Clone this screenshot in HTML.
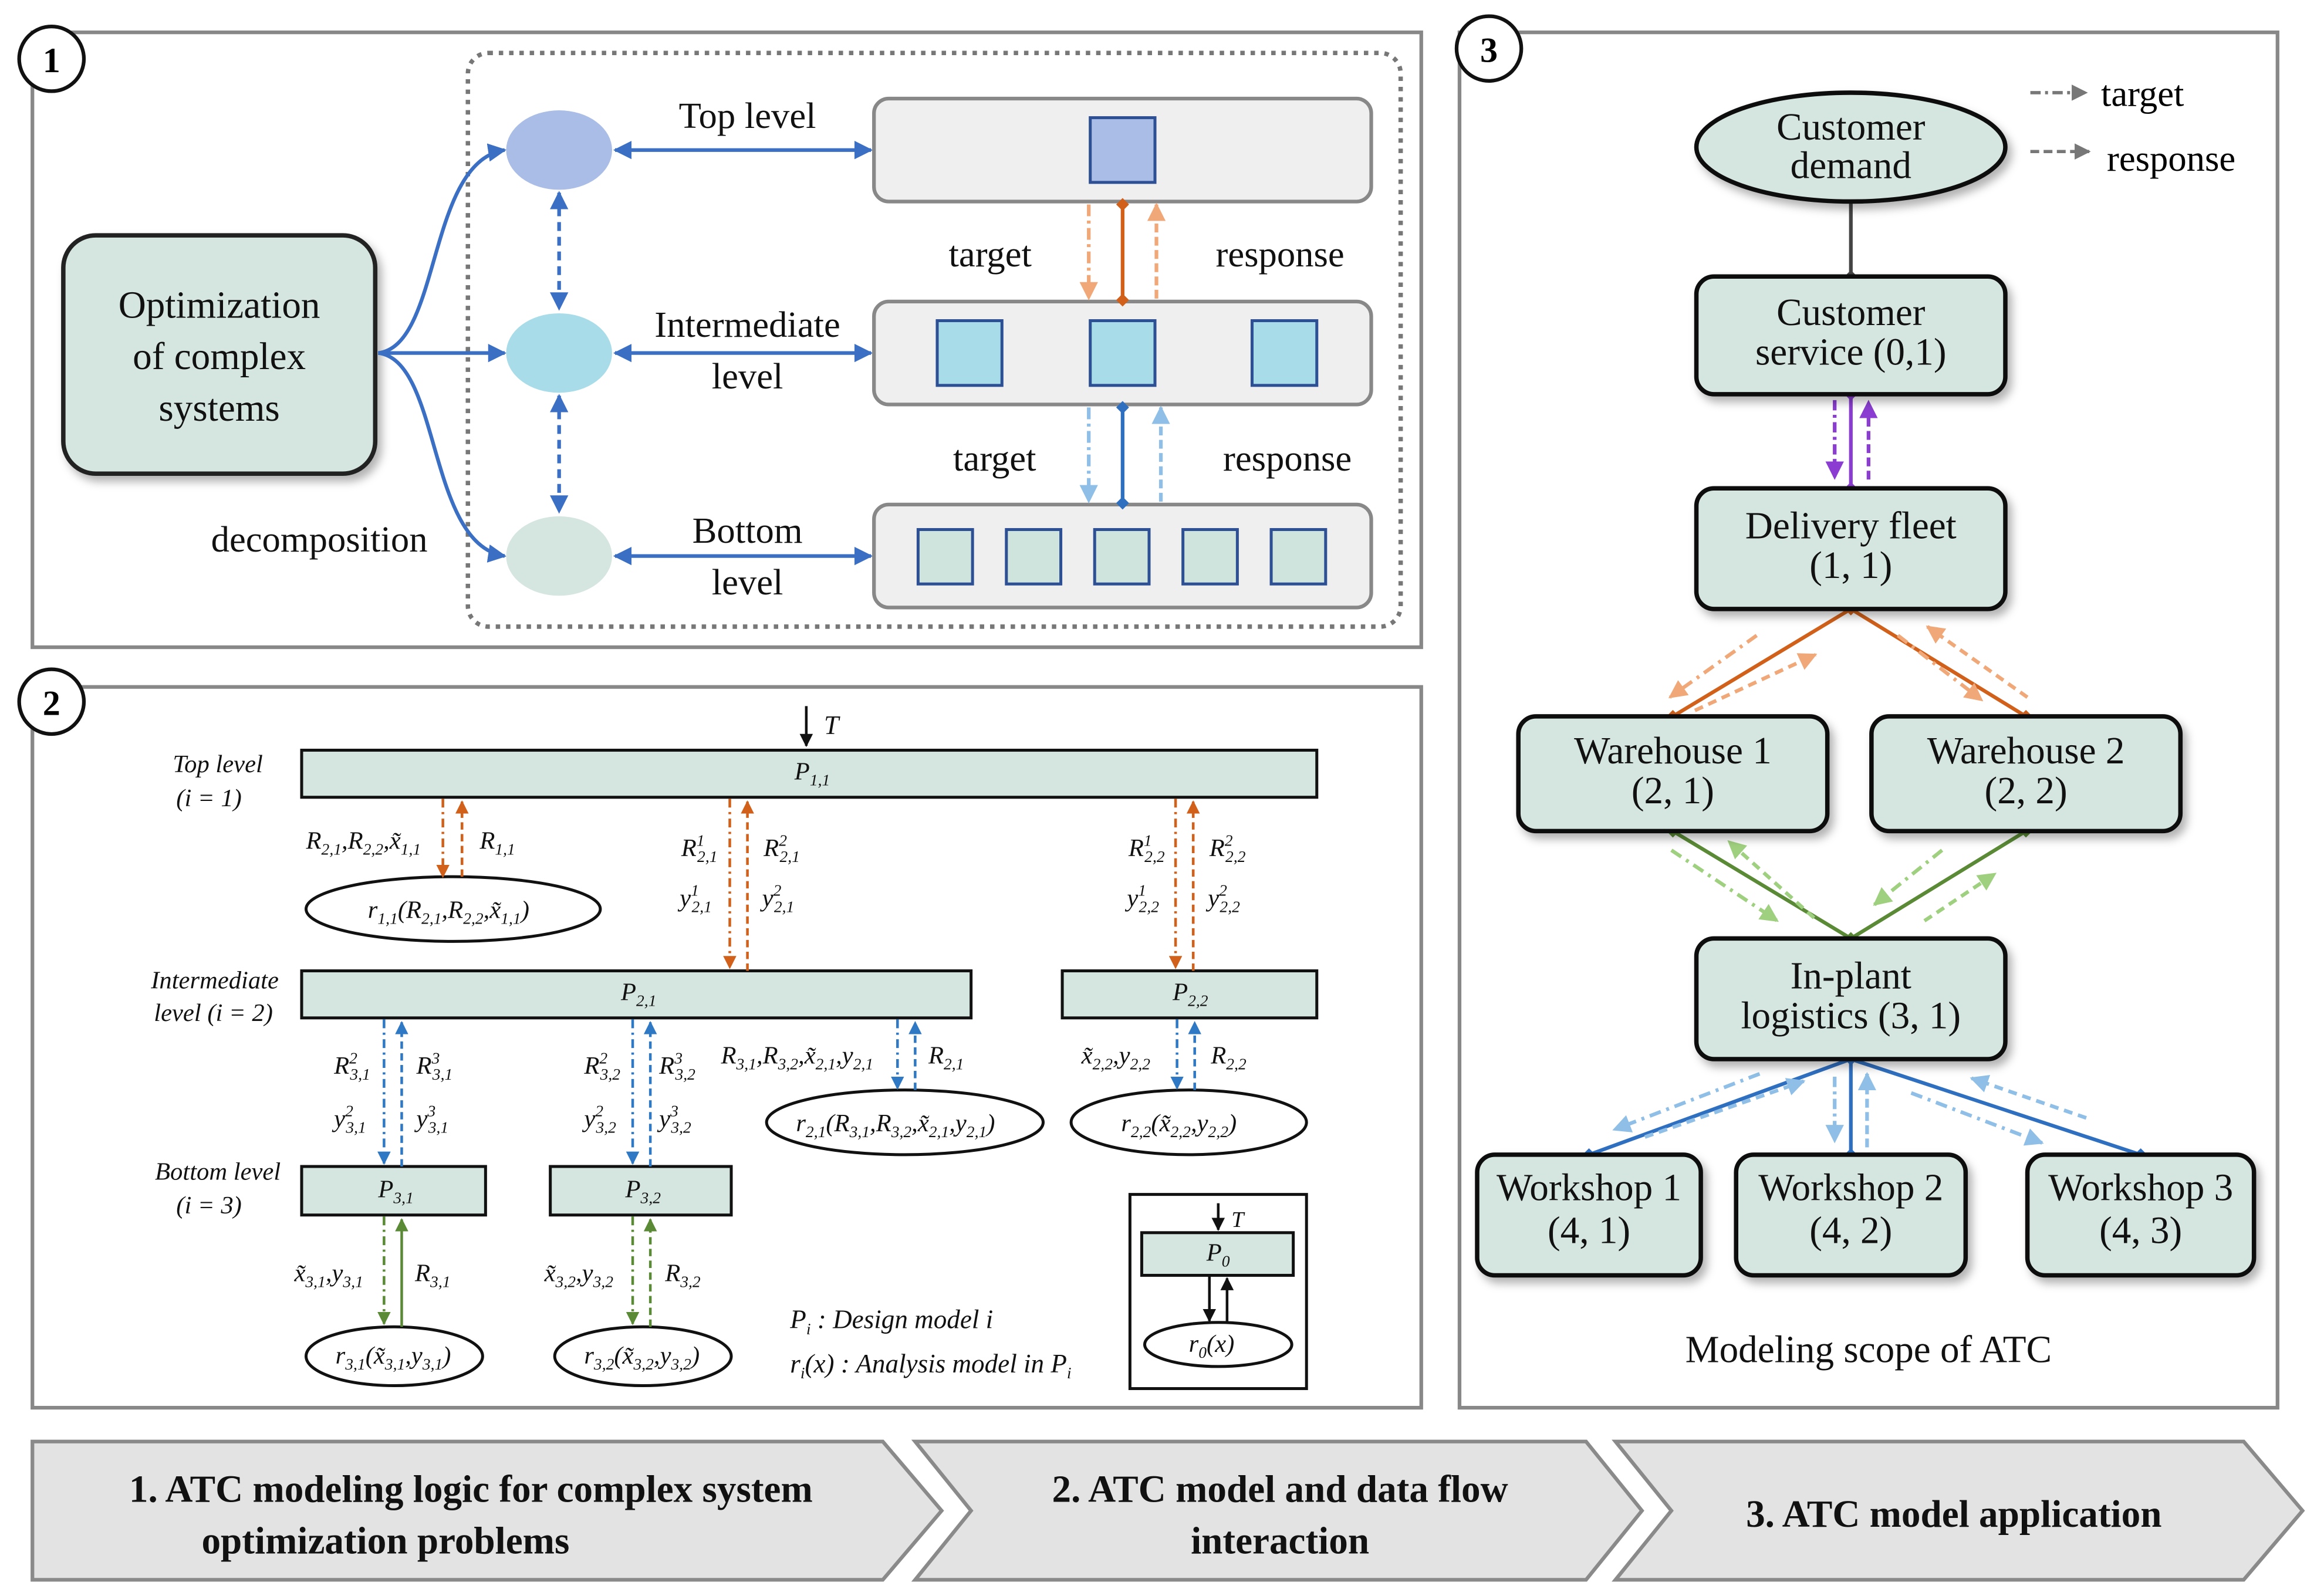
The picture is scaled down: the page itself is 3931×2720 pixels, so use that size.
<!DOCTYPE html>
<html><head><meta charset="utf-8"><style>html,body{margin:0;padding:0;background:#fff}svg{display:block}</style></head>
<body>
<svg xmlns="http://www.w3.org/2000/svg" width="3931" height="2720" viewBox="0 0 1568 1085" font-family="Liberation Serif, serif">
<defs>
<marker id="ab" viewBox="0 0 10 10" refX="9" refY="5" markerWidth="5" markerHeight="5" orient="auto-start-reverse"><path d="M0,0L10,5L0,10z" fill="#3a6fc4"/></marker>
<marker id="ak" viewBox="0 0 10 10" refX="9" refY="5" markerWidth="5" markerHeight="5" orient="auto-start-reverse"><path d="M0,0L10,5L0,10z" fill="#111"/></marker>
<marker id="ao" viewBox="0 0 10 10" refX="9" refY="5" markerWidth="5" markerHeight="5" orient="auto"><path d="M0,0L10,5L0,10z" fill="#d0601a"/></marker>
<marker id="alo" viewBox="0 0 10 10" refX="9" refY="5" markerWidth="5" markerHeight="5" orient="auto"><path d="M0,0L10,5L0,10z" fill="#f0a878"/></marker>
<marker id="alb" viewBox="0 0 10 10" refX="9" refY="5" markerWidth="5" markerHeight="5" orient="auto"><path d="M0,0L10,5L0,10z" fill="#8fbfe6"/></marker>
<marker id="alg" viewBox="0 0 10 10" refX="9" refY="5" markerWidth="5" markerHeight="5" orient="auto"><path d="M0,0L10,5L0,10z" fill="#9fd07f"/></marker>
<marker id="ab2" viewBox="0 0 10 10" refX="9" refY="5" markerWidth="5" markerHeight="5" orient="auto"><path d="M0,0L10,5L0,10z" fill="#2f78c4"/></marker>
<marker id="ag" viewBox="0 0 10 10" refX="9" refY="5" markerWidth="5" markerHeight="5" orient="auto"><path d="M0,0L10,5L0,10z" fill="#5a8a35"/></marker>
<marker id="ap" viewBox="0 0 10 10" refX="9" refY="5" markerWidth="5" markerHeight="5" orient="auto"><path d="M0,0L10,5L0,10z" fill="#8a3dd0"/></marker>
<marker id="ag7" viewBox="0 0 10 10" refX="9" refY="5" markerWidth="5" markerHeight="5" orient="auto"><path d="M0,0L10,5L0,10z" fill="#777"/></marker>
<marker id="do" viewBox="0 0 10 10" refX="5" refY="5" markerWidth="3.5" markerHeight="3.5"><path d="M5,0L10,5L5,10L0,5z" fill="#d0601a"/></marker>
<marker id="db" viewBox="0 0 10 10" refX="5" refY="5" markerWidth="3.5" markerHeight="3.5"><path d="M5,0L10,5L5,10L0,5z" fill="#2f6fc0"/></marker>
<marker id="dg" viewBox="0 0 10 10" refX="5" refY="5" markerWidth="3.5" markerHeight="3.5"><path d="M5,0L10,5L5,10L0,5z" fill="#5a8a35"/></marker>
<marker id="dp" viewBox="0 0 10 10" refX="5" refY="5" markerWidth="3.5" markerHeight="3.5"><path d="M5,0L10,5L5,10L0,5z" fill="#8a3dd0"/></marker>
<marker id="dk" viewBox="0 0 10 10" refX="5" refY="5" markerWidth="3.5" markerHeight="3.5"><path d="M5,0L10,5L5,10L0,5z" fill="#444"/></marker>
<filter id="sh" x="-10%" y="-10%" width="130%" height="140%"><feDropShadow dx="3" dy="4" stdDeviation="3" flood-color="#000" flood-opacity="0.3"/></filter>
</defs>

<!-- PANEL 1 -->
<rect x="22" y="22" width="944" height="418" fill="#fff" stroke="#888" stroke-width="2.5"/>
<rect x="318" y="36" width="634" height="390" rx="14" fill="none" stroke="#777" stroke-width="3" stroke-dasharray="3,4"/>
<rect x="43" y="160" width="212" height="162" rx="22" fill="#d5e5e0" stroke="#222" stroke-width="3" filter="url(#sh)"/>
<g font-size="26" text-anchor="middle" fill="#111">
<text x="149" y="216">Optimization</text><text x="149" y="251">of complex</text><text x="149" y="286">systems</text>
</g>
<g stroke="#3a6fc4" stroke-width="2.5" fill="none">
<path d="M257,240 C300,235 290,110 343,102" marker-end="url(#ab)"/>
<path d="M257,240 L343,240" marker-end="url(#ab)"/>
<path d="M257,240 C300,245 290,370 343,378" marker-end="url(#ab)"/>
<path d="M380,131 L380,210" stroke-dasharray="6,4" marker-start="url(#ab)" marker-end="url(#ab)"/>
<path d="M380,269 L380,348" stroke-dasharray="6,4" marker-start="url(#ab)" marker-end="url(#ab)"/>
<path d="M418,102 L592,102" marker-start="url(#ab)" marker-end="url(#ab)"/>
<path d="M418,240 L592,240" marker-start="url(#ab)" marker-end="url(#ab)"/>
<path d="M418,378 L592,378" marker-start="url(#ab)" marker-end="url(#ab)"/>
</g>
<ellipse cx="380" cy="102" rx="36" ry="27" fill="#aabde6"/>
<ellipse cx="380" cy="240" rx="36" ry="27" fill="#a8dce8"/>
<ellipse cx="380" cy="378" rx="36" ry="27" fill="#d5e5e0"/>
<g font-size="25" text-anchor="middle" fill="#111">
<text x="217" y="375">decomposition</text>
<text x="508" y="87">Top level</text>
<text x="508" y="229">Intermediate</text><text x="508" y="264">level</text>
<text x="508" y="369">Bottom</text><text x="508" y="404">level</text>
<text x="673" y="181">target</text><text x="870" y="181">response</text>
<text x="676" y="320">target</text><text x="875" y="320">response</text>
</g>
<g fill="#efefef" stroke="#888" stroke-width="2.5">
<rect x="594" y="67" width="338" height="70" rx="10"/>
<rect x="594" y="205" width="338" height="70" rx="10"/>
<rect x="594" y="343" width="338" height="70" rx="10"/>
</g>
<rect x="741" y="80" width="44" height="44" fill="#aabde6" stroke="#2d4f93" stroke-width="2"/>
<g fill="#a8dce8" stroke="#2d4f93" stroke-width="2">
<rect x="637" y="218" width="44" height="44"/><rect x="741" y="218" width="44" height="44"/><rect x="851" y="218" width="44" height="44"/>
</g>
<g fill="#d0e4de" stroke="#2d4f93" stroke-width="2">
<rect x="624" y="360" width="37" height="37"/><rect x="684" y="360" width="37" height="37"/><rect x="744" y="360" width="37" height="37"/><rect x="804" y="360" width="37" height="37"/><rect x="864" y="360" width="37" height="37"/>
</g>
<g stroke-width="2.5" fill="none">
<path d="M763,139 L763,204" stroke="#d0601a" marker-start="url(#do)" marker-end="url(#do)"/>
<path d="M740,139 L740,203" stroke="#f0a878" stroke-dasharray="8,3,2,3" marker-end="url(#alo)"/>
<path d="M786,203 L786,139" stroke="#f0a878" stroke-dasharray="6,3" marker-end="url(#alo)"/>
<path d="M763,277 L763,342" stroke="#2f6fc0" marker-start="url(#db)" marker-end="url(#db)"/>
<path d="M740,277 L740,341" stroke="#8fbfe6" stroke-dasharray="8,3,2,3" marker-end="url(#alb)"/>
<path d="M789,341 L789,277" stroke="#8fbfe6" stroke-dasharray="6,3" marker-end="url(#alb)"/>
</g>
<circle cx="35" cy="40" r="22" fill="#fff" stroke="#111" stroke-width="2.5"/>
<text x="35" y="49" font-size="24" font-weight="bold" text-anchor="middle">1</text>

<!-- PANEL 2 -->
<rect x="22" y="467" width="944" height="490" fill="#fff" stroke="#888" stroke-width="2.5"/>
<circle cx="35" cy="477" r="22" fill="#fff" stroke="#111" stroke-width="2.5"/>
<text x="35" y="486" font-size="24" font-weight="bold" text-anchor="middle">2</text>
<g fill="#d5e5e0" stroke="#111" stroke-width="2">
<rect x="205" y="510" width="690" height="32"/>
<rect x="205" y="660" width="455" height="32"/>
<rect x="722" y="660" width="173" height="32"/>
<rect x="205" y="793" width="125" height="33"/>
<rect x="374" y="793" width="123" height="33"/>
<rect x="776" y="838" width="103" height="29"/>
</g>
<rect x="768" y="812" width="120" height="132" fill="none" stroke="#111" stroke-width="2"/>
<g fill="#fff" stroke="#111" stroke-width="2">
<ellipse cx="308" cy="618" rx="100" ry="22"/>
<ellipse cx="615" cy="763" rx="94" ry="22"/>
<ellipse cx="808" cy="763" rx="80" ry="22"/>
<ellipse cx="268" cy="922" rx="60" ry="20"/>
<ellipse cx="437" cy="922" rx="60" ry="20"/>
<ellipse cx="828" cy="914" rx="50" ry="15"/>
</g>
<g stroke-width="1.8" fill="none">
<path d="M548,480 L548,507" stroke="#111" marker-end="url(#ak)"/>
<path d="M828,818 L828,836" stroke="#111" marker-end="url(#ak)"/>
<path d="M822,867 L822,898" stroke="#111" marker-end="url(#ak)"/>
<path d="M834,899 L834,869" stroke="#111" marker-end="url(#ak)"/>
<g stroke="#d0601a">
<path d="M301,543 L301,596" stroke-dasharray="6,3,1.5,3" marker-end="url(#ao)"/>
<path d="M314,596 L314,545" stroke-dasharray="5,3" marker-end="url(#ao)"/>
<path d="M496,543 L496,658" stroke-dasharray="6,3,1.5,3" marker-end="url(#ao)"/>
<path d="M508,660 L508,545" stroke-dasharray="5,3" marker-end="url(#ao)"/>
<path d="M799,543 L799,658" stroke-dasharray="6,3,1.5,3" marker-end="url(#ao)"/>
<path d="M811,660 L811,545" stroke-dasharray="5,3" marker-end="url(#ao)"/>
</g>
<g stroke="#2f78c4">
<path d="M261,693 L261,791" stroke-dasharray="6,3,1.5,3" marker-end="url(#ab2)"/>
<path d="M273,793 L273,695" stroke-dasharray="5,3" marker-end="url(#ab2)"/>
<path d="M430,693 L430,791" stroke-dasharray="6,3,1.5,3" marker-end="url(#ab2)"/>
<path d="M442,793 L442,695" stroke-dasharray="5,3" marker-end="url(#ab2)"/>
<path d="M610,693 L610,740" stroke-dasharray="6,3,1.5,3" marker-end="url(#ab2)"/>
<path d="M622,741 L622,695" stroke-dasharray="5,3" marker-end="url(#ab2)"/>
<path d="M800,693 L800,740" stroke-dasharray="6,3,1.5,3" marker-end="url(#ab2)"/>
<path d="M812,741 L812,695" stroke-dasharray="5,3" marker-end="url(#ab2)"/>
</g>
<g stroke="#5a8a35">
<path d="M261,827 L261,900" stroke-dasharray="6,3,1.5,3" marker-end="url(#ag)"/>
<path d="M273,902 L273,829"  marker-end="url(#ag)"/>
<path d="M430,827 L430,900" stroke-dasharray="6,3,1.5,3" marker-end="url(#ag)"/>
<path d="M442,902 L442,829" stroke-dasharray="5,3" marker-end="url(#ag)"/>
</g>
</g>
<g font-style="italic" font-size="17" fill="#111">
<text x="148" y="525" text-anchor="middle">Top level</text>
<text x="142" y="548" text-anchor="middle">(i = 1)</text>
<text x="146" y="672" text-anchor="middle">Intermediate</text>
<text x="145" y="694" text-anchor="middle">level (i = 2)</text>
<text x="148" y="802" text-anchor="middle">Bottom level</text>
<text x="142" y="825" text-anchor="middle">(i = 3)</text>
<text x="560" y="499" font-size="18">T</text>
<text x="837" y="834" font-size="15">T</text>
<text x="540" y="530">P<tspan font-size="11" dy="4">1,1</tspan></text>
<text x="422" y="680">P<tspan font-size="11" dy="4">2,1</tspan></text>
<text x="797" y="680">P<tspan font-size="11" dy="4">2,2</tspan></text>
<text x="257" y="814">P<tspan font-size="11" dy="4">3,1</tspan></text>
<text x="425" y="814">P<tspan font-size="11" dy="4">3,2</tspan></text>
<text x="820" y="857">P<tspan font-size="11" dy="4">0</tspan></text>
<text x="208" y="577">R<tspan font-size="11" dy="4">2,1</tspan><tspan dy="-4">,R</tspan><tspan font-size="11" dy="4">2,2</tspan><tspan dy="-4">,x̃</tspan><tspan font-size="11" dy="4">1,1</tspan></text>
<text x="326" y="577">R<tspan font-size="11" dy="4">1,1</tspan></text>
<text x="250" y="624">r<tspan font-size="11" dy="4">1,1</tspan><tspan dy="-4">(R</tspan><tspan font-size="11" dy="4">2,1</tspan><tspan dy="-4">,R</tspan><tspan font-size="11" dy="4">2,2</tspan><tspan dy="-4">,x̃</tspan><tspan font-size="11" dy="4">1,1</tspan><tspan dy="-4">)</tspan></text>
<text x="463" y="582">R<tspan font-size="11" dy="-7">1</tspan><tspan font-size="11" dx="-5" dy="11">2,1</tspan></text>
<text x="519" y="582">R<tspan font-size="11" dy="-7">2</tspan><tspan font-size="11" dx="-5" dy="11">2,1</tspan></text>
<text x="462" y="616">y<tspan font-size="11" dy="-7">1</tspan><tspan font-size="11" dx="-5" dy="11">2,1</tspan></text>
<text x="518" y="616">y<tspan font-size="11" dy="-7">2</tspan><tspan font-size="11" dx="-5" dy="11">2,1</tspan></text>
<text x="767" y="582">R<tspan font-size="11" dy="-7">1</tspan><tspan font-size="11" dx="-5" dy="11">2,2</tspan></text>
<text x="822" y="582">R<tspan font-size="11" dy="-7">2</tspan><tspan font-size="11" dx="-5" dy="11">2,2</tspan></text>
<text x="766" y="616">y<tspan font-size="11" dy="-7">1</tspan><tspan font-size="11" dx="-5" dy="11">2,2</tspan></text>
<text x="821" y="616">y<tspan font-size="11" dy="-7">2</tspan><tspan font-size="11" dx="-5" dy="11">2,2</tspan></text>
<text x="227" y="730">R<tspan font-size="11" dy="-7">2</tspan><tspan font-size="11" dx="-5" dy="11">3,1</tspan></text>
<text x="283" y="730">R<tspan font-size="11" dy="-7">3</tspan><tspan font-size="11" dx="-5" dy="11">3,1</tspan></text>
<text x="227" y="766">y<tspan font-size="11" dy="-7">2</tspan><tspan font-size="11" dx="-5" dy="11">3,1</tspan></text>
<text x="283" y="766">y<tspan font-size="11" dy="-7">3</tspan><tspan font-size="11" dx="-5" dy="11">3,1</tspan></text>
<text x="397" y="730">R<tspan font-size="11" dy="-7">2</tspan><tspan font-size="11" dx="-5" dy="11">3,2</tspan></text>
<text x="448" y="730">R<tspan font-size="11" dy="-7">3</tspan><tspan font-size="11" dx="-5" dy="11">3,2</tspan></text>
<text x="397" y="766">y<tspan font-size="11" dy="-7">2</tspan><tspan font-size="11" dx="-5" dy="11">3,2</tspan></text>
<text x="448" y="766">y<tspan font-size="11" dy="-7">3</tspan><tspan font-size="11" dx="-5" dy="11">3,2</tspan></text>
<text x="490" y="723">R<tspan font-size="11" dy="4">3,1</tspan><tspan dy="-4">,R</tspan><tspan font-size="11" dy="4">3,2</tspan><tspan dy="-4">,x̃</tspan><tspan font-size="11" dy="4">2,1</tspan><tspan dy="-4">,y</tspan><tspan font-size="11" dy="4">2,1</tspan></text>
<text x="631" y="723">R<tspan font-size="11" dy="4">2,1</tspan></text>
<text x="735" y="723">x̃<tspan font-size="11" dy="4">2,2</tspan><tspan dy="-4">,y</tspan><tspan font-size="11" dy="4">2,2</tspan></text>
<text x="823" y="723">R<tspan font-size="11" dy="4">2,2</tspan></text>
<text x="541" y="769">r<tspan font-size="11" dy="4">2,1</tspan><tspan dy="-4">(R</tspan><tspan font-size="11" dy="4">3,1</tspan><tspan dy="-4">,R</tspan><tspan font-size="11" dy="4">3,2</tspan><tspan dy="-4">,x̃</tspan><tspan font-size="11" dy="4">2,1</tspan><tspan dy="-4">,y</tspan><tspan font-size="11" dy="4">2,1</tspan><tspan dy="-4">)</tspan></text>
<text x="762" y="769">r<tspan font-size="11" dy="4">2,2</tspan><tspan dy="-4">(x̃</tspan><tspan font-size="11" dy="4">2,2</tspan><tspan dy="-4">,y</tspan><tspan font-size="11" dy="4">2,2</tspan><tspan dy="-4">)</tspan></text>
<text x="200" y="871">x̃<tspan font-size="11" dy="4">3,1</tspan><tspan dy="-4">,y</tspan><tspan font-size="11" dy="4">3,1</tspan></text>
<text x="282" y="871">R<tspan font-size="11" dy="4">3,1</tspan></text>
<text x="370" y="871">x̃<tspan font-size="11" dy="4">3,2</tspan><tspan dy="-4">,y</tspan><tspan font-size="11" dy="4">3,2</tspan></text>
<text x="452" y="871">R<tspan font-size="11" dy="4">3,2</tspan></text>
<text x="228" y="927">r<tspan font-size="11" dy="4">3,1</tspan><tspan dy="-4">(x̃</tspan><tspan font-size="11" dy="4">3,1</tspan><tspan dy="-4">,y</tspan><tspan font-size="11" dy="4">3,1</tspan><tspan dy="-4">)</tspan></text>
<text x="397" y="927">r<tspan font-size="11" dy="4">3,2</tspan><tspan dy="-4">(x̃</tspan><tspan font-size="11" dy="4">3,2</tspan><tspan dy="-4">,y</tspan><tspan font-size="11" dy="4">3,2</tspan><tspan dy="-4">)</tspan></text>
<text x="808" y="919">r<tspan font-size="11" dy="4">0</tspan><tspan dy="-4">(x)</tspan></text>
<text x="537" y="903" font-size="18">P<tspan font-size="11" dy="4">i</tspan><tspan dy="-4"> : Design model i</tspan></text>
<text x="537" y="933" font-size="18">r<tspan font-size="11" dy="4">i</tspan><tspan dy="-4">(x) : Analysis model in P</tspan><tspan font-size="11" dy="4">i</tspan></text>
</g>

<!-- PANEL 3 -->
<rect x="992" y="22" width="556" height="935" fill="#fff" stroke="#888" stroke-width="2.5"/>
<circle cx="1012" cy="33" r="22" fill="#fff" stroke="#111" stroke-width="2.5"/>
<text x="1012" y="42" font-size="24" font-weight="bold" text-anchor="middle">3</text>
<g stroke-width="2.2" fill="none">
<path d="M1380,63 L1418,63" stroke="#777" stroke-dasharray="7,3,2,3" marker-end="url(#ag7)"/>
<path d="M1380,103 L1420,103" stroke="#777" stroke-dasharray="6,3" marker-end="url(#ag7)"/>
</g>
<text x="1428" y="72" font-size="25">target</text>
<text x="1432" y="116" font-size="25">response</text>

<g stroke-width="2.5" fill="none">
<path d="M1258,138 L1258,188" stroke="#444" marker-end="url(#dk)"/>
<path d="M1258,268 L1258,332" stroke="#8a3dd0" marker-start="url(#dp)" marker-end="url(#dp)"/>
<path d="M1247,272 L1247,325" stroke="#8a3dd0" stroke-dasharray="7,3,2,3" marker-end="url(#ap)"/>
<path d="M1270,326 L1270,273" stroke="#8a3dd0" stroke-dasharray="6,3" marker-end="url(#ap)"/>
<path d="M1137,487 L1258,414 L1377,487" stroke="#d0601a" marker-start="url(#do)" marker-mid="url(#do)" marker-end="url(#do)"/>
<path d="M1137,565 L1258,638 L1377,565" stroke="#5a8a35" marker-start="url(#dg)" marker-mid="url(#dg)" marker-end="url(#dg)"/>
<path d="M1080,785 L1258,720 L1455,785" stroke="#2f6fc0" marker-start="url(#db)" marker-mid="url(#db)" marker-end="url(#db)"/>
<path d="M1258,720 L1258,785" stroke="#2f6fc0" marker-end="url(#db)"/>
</g>
<g stroke-width="2.5" fill="none">
<path d="M1194,432 L1135,474" stroke="#f0a878" stroke-dasharray="8,4,2,4" marker-end="url(#alo)"/>
<path d="M1152,483 L1234,445" stroke="#f0a878" stroke-dasharray="6,4" marker-end="url(#alo)"/>
<path d="M1290,432 L1347,476" stroke="#f0a878" stroke-dasharray="8,4,2,4" marker-end="url(#alo)"/>
<path d="M1378,474 L1310,426" stroke="#f0a878" stroke-dasharray="6,4" marker-end="url(#alo)"/>
<path d="M1136,578 L1208,626" stroke="#9fd07f" stroke-dasharray="8,4,2,4" marker-end="url(#alg)"/>
<path d="M1233,624 L1175,572" stroke="#9fd07f" stroke-dasharray="6,4" marker-end="url(#alg)"/>
<path d="M1320,578 L1274,615" stroke="#9fd07f" stroke-dasharray="8,4,2,4" marker-end="url(#alg)"/>
<path d="M1308,626 L1356,594" stroke="#9fd07f" stroke-dasharray="6,4" marker-end="url(#alg)"/>
<path d="M1196,730 L1097,768" stroke="#8fbfe6" stroke-dasharray="8,4,2,4" marker-end="url(#alb)"/>
<path d="M1118,773 L1226,735" stroke="#8fbfe6" stroke-dasharray="6,4" marker-end="url(#alb)"/>
<path d="M1247,732 L1247,776" stroke="#8fbfe6" stroke-dasharray="7,3,2,3" marker-end="url(#alb)"/>
<path d="M1269,780 L1269,730" stroke="#8fbfe6" stroke-dasharray="6,3" marker-end="url(#alb)"/>
<path d="M1299,743 L1388,777" stroke="#8fbfe6" stroke-dasharray="8,4,2,4" marker-end="url(#alb)"/>
<path d="M1418,760 L1340,733" stroke="#8fbfe6" stroke-dasharray="6,4" marker-end="url(#alb)"/>
</g>
<g fill="#d5e5e0" stroke="#111" stroke-width="3" filter="url(#sh)">
<ellipse cx="1258" cy="100" rx="105" ry="37"/>
<rect x="1153" y="188" width="210" height="80" rx="12"/>
<rect x="1153" y="332" width="210" height="82" rx="12"/>
<rect x="1032" y="487" width="210" height="78" rx="12"/>
<rect x="1272" y="487" width="210" height="78" rx="12"/>
<rect x="1153" y="638" width="210" height="82" rx="12"/>
<rect x="1004" y="785" width="152" height="82" rx="12"/>
<rect x="1180" y="785" width="156" height="82" rx="12"/>
<rect x="1378" y="785" width="154" height="82" rx="12"/>
</g>
<g font-size="26" text-anchor="middle" fill="#111">
<text x="1258" y="95">Customer</text><text x="1258" y="121">demand</text>
<text x="1258" y="221">Customer</text><text x="1258" y="248">service (0,1)</text>
<text x="1258" y="366">Delivery fleet</text><text x="1258" y="393">(1, 1)</text>
<text x="1137" y="519">Warehouse 1</text><text x="1137" y="546">(2, 1)</text>
<text x="1377" y="519">Warehouse 2</text><text x="1377" y="546">(2, 2)</text>
<text x="1258" y="672">In-plant</text><text x="1258" y="699">logistics (3, 1)</text>
<text x="1080" y="816">Workshop 1</text><text x="1080" y="845">(4, 1)</text>
<text x="1258" y="816">Workshop 2</text><text x="1258" y="845">(4, 2)</text>
<text x="1455" y="816">Workshop 3</text><text x="1455" y="845">(4, 3)</text>
<text x="1270" y="926">Modeling scope of ATC</text>
</g>

<!-- BANNER -->
<g fill="#e3e3e3" stroke="#8a8a8a" stroke-width="2.5">
<path d="M22,980 L600,980 L640,1027 L600,1074 L22,1074 Z"/>
<path d="M622,980 L1078,980 L1116,1027 L1078,1074 L622,1074 L660,1027 Z"/>
<path d="M1098,980 L1525,980 L1565,1027 L1525,1074 L1098,1074 L1136,1027 Z"/>
</g>
<g font-size="26" font-weight="bold" text-anchor="middle" fill="#111">
<text x="320" y="1021">1. ATC modeling logic for complex system</text>
<text x="262" y="1056">optimization problems</text>
<text x="870" y="1021">2. ATC model and data flow</text>
<text x="870" y="1056">interaction</text>
<text x="1328" y="1038">3. ATC model application</text>
</g>
</svg>
</body></html>
